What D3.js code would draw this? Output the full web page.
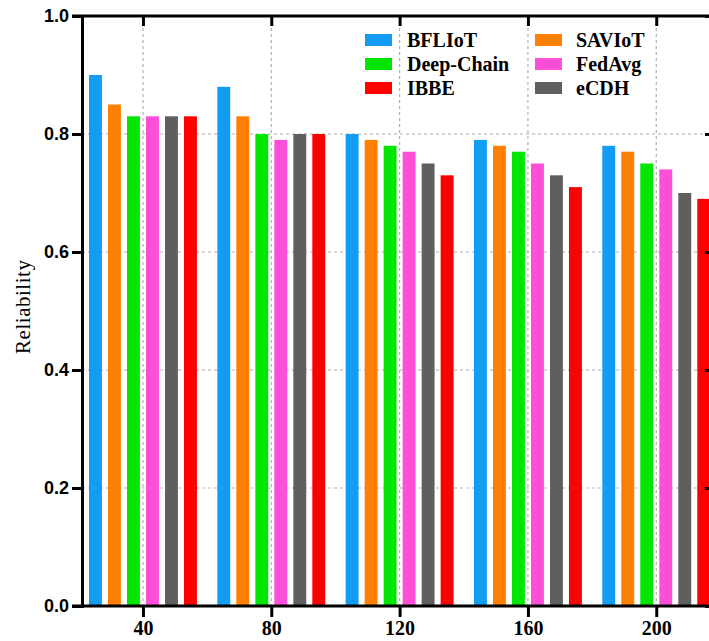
<!DOCTYPE html>
<html>
<head>
<meta charset="utf-8">
<script src="https://cdn.jsdelivr.net/npm/d3@7"></script>
<style>
  body { margin: 0; background: #fff; }
  svg { display: block; }
</style>
</head>
<body>
<div id="chart"></div>
<script>
// chart data
const groups = [40, 80, 120, 160, 200];
const seriesNames = ['BFLIoT', 'SAVIoT', 'Deep-Chain', 'FedAvg', 'eCDH', 'IBBE'];
const seriesColors = ['#129cf3', '#ff7f00', '#00e600', '#ff4fd8', '#5f5f5f', '#ff0000'];
const bfliot = [0.90, 0.88, 0.80, 0.79, 0.78];
const saviot = [0.85, 0.83, 0.79, 0.78, 0.77];
const deepChain = [0.83, 0.80, 0.78, 0.77, 0.75];
const fedAvg = [0.83, 0.79, 0.77, 0.75, 0.74];
const ecdh = [0.83, 0.80, 0.75, 0.73, 0.70];
const ibbe = [0.83, 0.80, 0.73, 0.71, 0.69];
const yTicks = [0, 0.2, 0.4, 0.6, 0.8, 1.0];

const seriesValues = [bfliot, saviot, deepChain, fedAvg, ecdh, ibbe];
// legend layout: two columns
const legendCols = [['BFLIoT', 'Deep-Chain', 'IBBE'], ['SAVIoT', 'FedAvg', 'eCDH']];

const width = 709, height = 641;
const plot = { left: 82, right: 714, top: 16, bottom: 606 };

const svg = d3.select('#chart').append('svg')
    .attr('width', width)
    .attr('height', height);

const x = d3.scaleLinear().domain([21, 218]).range([plot.left, plot.right]);
const y = d3.scaleLinear().domain([0, 1]).range([plot.bottom, plot.top]);
const inner = d3.scaleBand().domain(seriesNames).range([-57, 57])
    .paddingInner(0.32).paddingOuter(0.16);

// grid
const grid = svg.append('g')
    .attr('stroke', '#b0b0b0')
    .attr('stroke-width', 1.2)
    .attr('stroke-dasharray', '3,3');
grid.selectAll('.hgrid')
    .data(yTicks.filter(d => d > 0 && d < 1))
    .enter().append('line')
    .attr('x1', plot.left).attr('x2', plot.right)
    .attr('y1', d => y(d)).attr('y2', d => y(d));
grid.selectAll('.vgrid')
    .data(groups)
    .enter().append('line')
    .attr('x1', d => x(d)).attr('x2', d => x(d))
    .attr('y1', plot.top).attr('y2', plot.bottom);

// bars
const rows = [];
groups.forEach((g, gi) => {
    seriesNames.forEach((s, si) => {
        rows.push({ group: g, series: s, value: seriesValues[si][gi], color: seriesColors[si] });
    });
});

svg.append('g').selectAll('rect')
    .data(rows)
    .enter().append('rect')
    .attr('x', d => x(d.group) + inner(d.series))
    .attr('width', inner.bandwidth())
    .attr('y', d => y(d.value))
    .attr('height', d => y(0) - y(d.value))
    .attr('fill', d => d.color);

// axes
const axisLeft = svg.append('g')
    .attr('transform', `translate(${plot.left},0)`)
    .call(d3.axisLeft(y).tickValues(yTicks).tickFormat(d3.format('.1f')).tickSize(10).tickPadding(3));
const axisBottom = svg.append('g')
    .attr('transform', `translate(0,${plot.bottom})`)
    .call(d3.axisBottom(x).tickValues(groups).tickSize(11).tickPadding(4));
const axisTop = svg.append('g')
    .attr('transform', `translate(0,${plot.top})`)
    .call(d3.axisBottom(x).tickValues(groups).tickSize(10).tickFormat(''));
const axisRight = svg.append('g')
    .attr('transform', `translate(${plot.right},0)`)
    .call(d3.axisLeft(y).tickValues(yTicks).tickSize(9).tickFormat(''));

[axisLeft, axisBottom, axisTop, axisRight].forEach(a => {
    a.select('.domain').attr('stroke', '#000').attr('stroke-width', 3);
    a.selectAll('.tick line').attr('stroke', '#000').attr('stroke-width', 3);
});
axisBottom.select('.domain').attr('d', `M${plot.left - 10},0H${plot.right}`);
axisTop.select('.domain').attr('d', `M${plot.left - 10},0H${plot.right}`);

axisLeft.selectAll('text')
    .attr('font-family', '"Liberation Sans", Arial, sans-serif')
    .attr('font-weight', 'bold')
    .attr('font-size', 18)
    .attr('fill', '#000');
axisBottom.selectAll('text')
    .attr('font-family', '"Liberation Serif", "Times New Roman", serif')
    .attr('font-weight', 'bold')
    .attr('font-size', 20)
    .attr('fill', '#000');

// y label
svg.append('text')
    .attr('transform', 'translate(30,307) rotate(-90)')
    .attr('text-anchor', 'middle')
    .attr('font-family', '"Liberation Serif", "Times New Roman", serif')
    .attr('font-size', 21)
    .attr('textLength', 94)
    .attr('lengthAdjust', 'spacing')
    .text('Reliability');

// legend
const colX = [{ swatch: 365, text: 407 }, { swatch: 535, text: 576 }];
const rowY = [40, 64, 88];
legendCols.forEach((col, ci) => {
    col.forEach((name, ri) => {
        const color = seriesColors[seriesNames.indexOf(name)];
        svg.append('rect')
            .attr('x', colX[ci].swatch)
            .attr('y', rowY[ri] - 6)
            .attr('width', 27)
            .attr('height', 12)
            .attr('fill', color);
        svg.append('text')
            .attr('x', colX[ci].text)
            .attr('y', rowY[ri] + 7)
            .attr('font-family', '"Liberation Serif", "Times New Roman", serif')
            .attr('font-weight', 'bold')
            .attr('font-size', 20)
            .attr('fill', '#000')
            .text(name);
    });
});
</script>
</body>
</html>
